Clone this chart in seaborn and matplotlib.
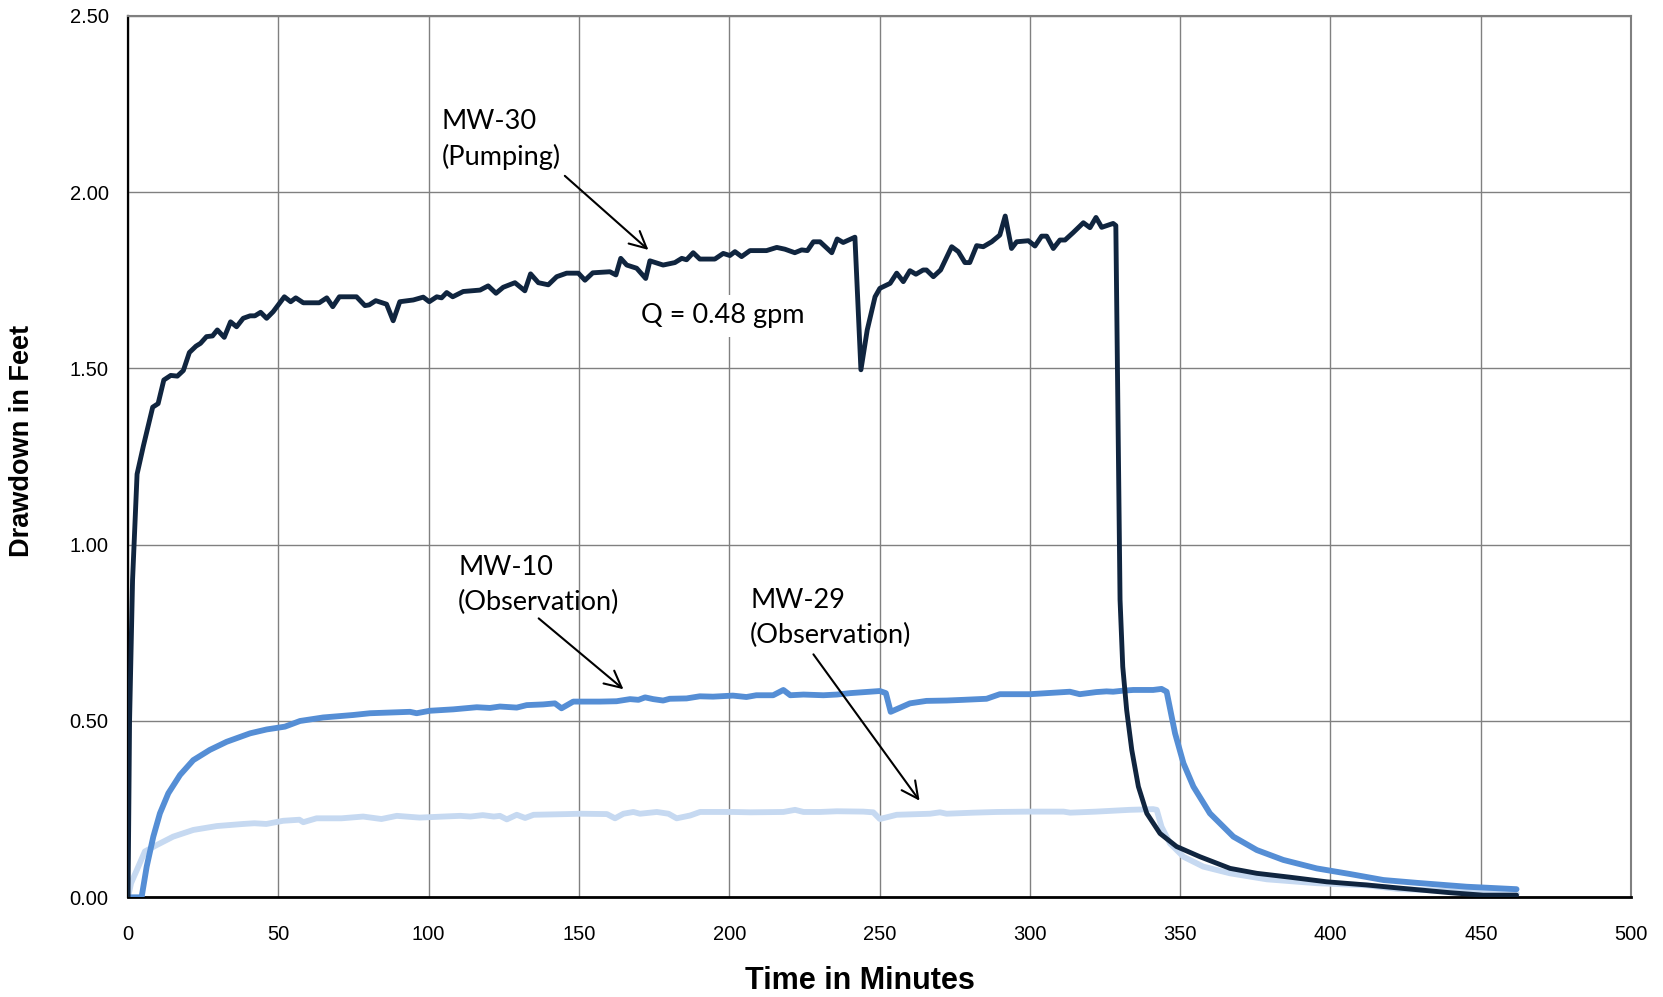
import matplotlib
matplotlib.use("Agg")
import matplotlib.pyplot as plt
import seaborn as sns
import pandas as pd

# ---------------- data ----------------
time_mw30 = [0, 0.5, 1.5, 3, 5.1, 8.2, 10, 11.9, 14.2, 16.4,
             18.4, 20.4, 22.6, 24.1, 26.1, 28.1, 29.7, 32, 34.1, 36.1,
             38.3, 40.6, 42.2, 44.1, 46.1, 48.3, 52, 54.1, 55.8, 58.3,
             63.6, 66.1, 68.1, 70.3, 76, 78.8, 80.2, 82.4, 86, 88.2,
             90.4, 94.9, 98.2, 100.2, 102.7, 104.3, 106, 108, 111.5, 117.1,
             119.8, 122.4, 124.8, 128.7, 132, 133.9, 136.5, 139.8, 142.6, 145.9,
             149.8, 152, 154.6, 160.3, 162.3, 163.9, 165.9, 169.2, 172.2, 173.6,
             178, 181.9, 184.2, 185.8, 188, 190.2, 195.2, 198, 200.2, 201.9,
             204.1, 206.9, 212.4, 215.8, 218.5, 221.8, 224.1, 226, 228, 230.2,
             234.1, 235.9, 237.9, 241.8, 243.8, 245.9, 248.5, 250.1, 253.5, 255.7,
             257.9, 260.1, 262.1, 264.5, 265.6, 267.9, 270.3, 274, 276.2, 278.4,
             280, 282.3, 284.5, 287.3, 290, 291.8, 293.9, 295.6, 299.5, 301.7,
             303.9, 305.6, 307.8, 310, 311.7, 314.4, 317.8, 320, 322, 323.9,
             327.7, 328.6, 330, 330.9, 332.2, 333.9, 336.1, 338.9, 343.3, 348.8,
             356.6, 366.6, 375.5, 386.5, 398.7, 412, 423.1, 439.8, 450.8, 461.9]
drawdown_mw30 = [0, 0.5, 0.9, 1.2, 1.28, 1.39, 1.40, 1.467, 1.48, 1.478,
                 1.494, 1.545, 1.563, 1.571, 1.59, 1.592, 1.609, 1.588, 1.632, 1.618,
                 1.642, 1.649, 1.649, 1.659, 1.642, 1.661, 1.703, 1.689, 1.70, 1.686,
                 1.686, 1.70, 1.675, 1.703, 1.703, 1.678, 1.68, 1.692, 1.682, 1.635,
                 1.689, 1.694, 1.702, 1.689, 1.703, 1.70, 1.715, 1.703, 1.718, 1.722,
                 1.734, 1.713, 1.73, 1.743, 1.72, 1.768, 1.743, 1.737, 1.76, 1.77,
                 1.77, 1.75, 1.771, 1.774, 1.765, 1.812, 1.793, 1.784, 1.755, 1.805,
                 1.793, 1.80, 1.812, 1.808, 1.828, 1.81, 1.81, 1.826, 1.82, 1.831,
                 1.817, 1.834, 1.834, 1.843, 1.838, 1.828, 1.836, 1.834, 1.859, 1.859,
                 1.828, 1.867, 1.857, 1.872, 1.496, 1.609, 1.703, 1.727, 1.741, 1.77,
                 1.746, 1.777, 1.767, 1.779, 1.779, 1.76, 1.779, 1.845, 1.831, 1.80,
                 1.80, 1.848, 1.845, 1.859, 1.878, 1.932, 1.84, 1.859, 1.862, 1.847,
                 1.875, 1.875, 1.84, 1.864, 1.864, 1.885, 1.913, 1.899, 1.928, 1.90,
                 1.911, 1.905, 0.844, 0.654, 0.531, 0.418, 0.314, 0.238, 0.181, 0.144,
                 0.115, 0.082, 0.068, 0.057, 0.044, 0.035, 0.026, 0.013, 0.006, 0.006]

time_mw10 = [0, 4.5, 6.2, 8.4, 10.6, 13.4, 17.3, 21.7, 27.2, 32.8,
             40.6, 46.1, 52.2, 57.2, 64.9, 74.9, 80.5, 93.8, 96, 100.4,
             108.2, 116, 120.4, 123.7, 129.3, 132.6, 138.1, 142, 144.2, 148.1,
             157, 162.5, 167, 169.8, 172, 174.7, 178, 180.2, 185.8, 190.2,
             194.6, 201.2, 205.7, 209, 214.6, 218, 220.3, 224.7, 231.3, 235.8,
             240.2, 250.1, 252.1, 253.7, 260.1, 265.6, 272.3, 277.9, 285.6, 290,
             300, 313.3, 316.6, 322.1, 325.5, 327.7, 331, 334.4, 341, 343.8,
             345.5, 348.3, 351.1, 354.4, 359.9, 367.7, 375.5, 384.3, 395.4, 406.5,
             417.6, 428.7, 445.3, 461.9]
drawdown_mw10 = [0, 0, 0.087, 0.172, 0.238, 0.295, 0.347, 0.389, 0.418, 0.441,
                 0.465, 0.476, 0.484, 0.50, 0.51, 0.517, 0.522, 0.526, 0.522, 0.529,
                 0.533, 0.539, 0.537, 0.541, 0.538, 0.545, 0.547, 0.55, 0.536, 0.555,
                 0.555, 0.556, 0.562, 0.56, 0.567, 0.562, 0.558, 0.563, 0.564, 0.57,
                 0.569, 0.572, 0.568, 0.573, 0.573, 0.588, 0.573, 0.575, 0.573, 0.575,
                 0.579, 0.585, 0.579, 0.526, 0.55, 0.557, 0.558, 0.56, 0.563, 0.576,
                 0.576, 0.583, 0.576, 0.582, 0.584, 0.583, 0.586, 0.588, 0.588, 0.591,
                 0.583, 0.465, 0.38, 0.314, 0.238, 0.172, 0.134, 0.106, 0.082, 0.066,
                 0.049, 0.041, 0.030, 0.023]

time_mw29 = [0, 1, 2.9, 5.6, 9.5, 15, 21.7, 29.5, 38.3, 42,
             46, 51.6, 57, 58.3, 62.7, 71, 78.2, 84.3, 89.4, 97,
             104.9, 110.5, 113.9, 118, 121.7, 123.7, 126, 129.3, 132.1, 134.9,
             146, 150.5, 159.3, 162, 164.8, 168.1, 170.3, 175.9, 179.8, 182.5,
             187, 190.3, 201.4, 207, 218, 221.9, 224.7, 230.2, 235.8, 244.6,
             247.9, 250.1, 255.7, 266.8, 270.1, 272.3, 281.2, 289, 300, 311.2,
             313.4, 322.1, 333.1, 341, 342.2, 343.8, 346.6, 351.1, 357.7, 366.6,
             378.8, 395.4, 412, 423.1, 439.8, 456, 462]
drawdown_mw29 = [0, 0.04, 0.077, 0.13, 0.148, 0.172, 0.191, 0.202, 0.208, 0.21,
                 0.208, 0.217, 0.22, 0.213, 0.224, 0.224, 0.229, 0.222, 0.231, 0.226,
                 0.229, 0.231, 0.229, 0.233, 0.229, 0.231, 0.221, 0.234, 0.225, 0.234,
                 0.236, 0.237, 0.236, 0.224, 0.237, 0.242, 0.237, 0.242, 0.237, 0.224,
                 0.232, 0.242, 0.242, 0.241, 0.242, 0.248, 0.242, 0.242, 0.244, 0.243,
                 0.241, 0.222, 0.234, 0.237, 0.241, 0.237, 0.24, 0.242, 0.243, 0.243,
                 0.24, 0.243, 0.248, 0.25, 0.248, 0.20, 0.153, 0.115, 0.087, 0.068,
                 0.051, 0.04, 0.034, 0.023, 0.018, 0.012, 0.01]

x_ticks = [0, 50, 100, 150, 200, 250, 300, 350, 400, 450, 500]
y_ticks = [0.0, 0.5, 1.0, 1.5, 2.0, 2.5]

# ---------------- plot ----------------
sns.set_style("white")
plt.rcParams['font.family'] = ['Liberation Sans', 'DejaVu Sans']
plt.rcParams['text.color'] = 'black'
plt.rcParams['xtick.color'] = 'black'
plt.rcParams['ytick.color'] = 'black'

fig = plt.figure(figsize=(16.63, 9.97), dpi=100)
ax = fig.add_axes([0.077, 0.1, 0.9038, 0.8842])

series = [
    (time_mw29, drawdown_mw29, "#C6D9F1", 4.2, 2),
    (time_mw10, drawdown_mw10, "#558ED5", 4.2, 3),
    (time_mw30, drawdown_mw30, "#10253F", 3.5, 4),
]
for t, d, c, lw, z in series:
    df = pd.DataFrame({"t": t, "d": d})
    sns.lineplot(data=df, x="t", y="d", ax=ax, color=c, linewidth=lw,
                 estimator=None, sort=False, zorder=z, solid_joinstyle="round")

ax.set_xlim(0, 500)
ax.set_ylim(0, 2.5)
ax.set_xticks(x_ticks)
ax.set_yticks(y_ticks)
ax.set_xticklabels([str(v) for v in x_ticks])
ax.set_yticklabels([f"{v:.2f}" for v in y_ticks])
ax.set_xlabel("")
ax.set_ylabel("")
ax.grid(True, color="#808080", linewidth=1.0)
ax.set_axisbelow(True)

for s in ["top", "right"]:
    ax.spines[s].set_color("#808080")
    ax.spines[s].set_linewidth(1.5)
ax.spines["left"].set_color("black")
ax.spines["left"].set_linewidth(1.6)
ax.spines["bottom"].set_color("black")
ax.spines["bottom"].set_linewidth(2.0)

ax.tick_params(axis="y", direction="out", length=6, width=1.2, color="black",
               labelcolor="black", labelsize=14.5, pad=8)
ax.tick_params(axis="x", direction="out", length=6, width=1.2, color="#808080",
               labelcolor="black", labelsize=14.5, pad=14)

fig.text(0.517, 0.016, "Time in Minutes", ha="center", va="center",
         fontsize=22, fontweight="bold", color="black")
fig.text(0.0135, 0.5577, "Drawdown in Feet", ha="center", va="center",
         rotation=90, fontsize=19.5, fontweight="bold", color="black")

ann_font = dict(fontsize=19.5, family=["Lato", "DejaVu Sans"], linespacing=1.5,
                color="black")
arrow = dict(arrowstyle="->", color="black", lw=1.5, mutation_scale=30,
             shrinkA=0, shrinkB=0)

ax.text(104.3, 2.149, "MW-30\n(Pumping)", ha="left", va="center", **ann_font)
ax.annotate("", xy=(173.1, 1.836), xytext=(145.3, 2.046), arrowprops=arrow)

ax.text(170.5, 1.649, "Q = 0.48 gpm", ha="left", va="center",
        bbox=dict(facecolor="white", edgecolor="none", pad=6), **ann_font)

ax.text(109.8, 0.886, "MW-10\n(Observation)", ha="left", va="center", **ann_font)
ax.annotate("", xy=(164.8, 0.59), xytext=(136.6, 0.791), arrowprops=arrow)

ax.text(206.9, 0.791, "MW-29\n(Observation)", ha="left", va="center", **ann_font)
ax.annotate("", xy=(263.3, 0.274), xytext=(228.0, 0.689), arrowprops=arrow)

fig.savefig("out.png", dpi=100, facecolor="white")
